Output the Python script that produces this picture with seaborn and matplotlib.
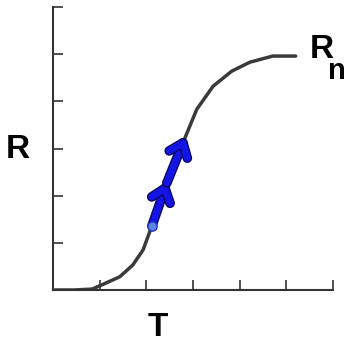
import numpy as np
import pandas as pd
import seaborn as sns
from matplotlib import pyplot as plt
import matplotlib.patheffects as pe

# curve (data units, ticks every 1)
t_vals = [0.04, 0.45, 0.84, 1.05, 1.43, 1.71, 1.93, 2.12, 2.40, 2.61, 2.83, 3.08, 3.43, 3.83, 4.22, 4.71, 5.20]
r_vals = [0.00, 0.00, 0.02, 0.11, 0.28, 0.53, 0.85, 1.36, 2.00, 2.60, 3.23, 3.83, 4.32, 4.64, 4.83, 4.96, 4.96]

# arrow path along the curve
arrow_t = [2.12, 2.44, 2.83]
arrow_r = [1.36, 2.27, 3.23]

tick_pos = [0, 1, 2, 3, 4, 5, 6]

sns.set_style("ticks")
plt.rcParams['font.family'] = ['Liberation Sans', 'DejaVu Sans']

df = pd.DataFrame({"T": t_vals, "R": r_vals})

fig = plt.figure(figsize=(3.47, 3.46), dpi=100)
ax = fig.add_axes([53/347, 56/346, 280/347, 283/346])

sns.lineplot(data=df, x="T", y="R", color="#3a3a3a", lw=2.5, ax=ax, sort=False)

# two blue arrows
for i in range(len(arrow_t) - 1):
    ax.annotate("", xy=(arrow_t[i + 1], arrow_r[i + 1]), xytext=(arrow_t[i], arrow_r[i]),
                arrowprops=dict(arrowstyle="->,head_length=0.9,head_width=0.7",
                                color="#1414e6", lw=5,
                                path_effects=[pe.Stroke(linewidth=7, foreground="#0a0a60"), pe.Normal()],
                                shrinkA=0, shrinkB=0),
                zorder=4)

sns.scatterplot(x=[arrow_t[0]], y=[arrow_r[0]], s=45, color="#5a86e8", edgecolor="#2030c0",
                linewidth=1, ax=ax, zorder=5)

ax.set_xlim(0, 6)
ax.set_ylim(0, 6)
ax.set_xticks(tick_pos)
ax.set_yticks(tick_pos)
ax.set_xticklabels([])
ax.set_yticklabels([])
ax.tick_params(direction="in", length=7, width=1.2, color="#333333")
for s in ["left", "bottom"]:
    ax.spines[s].set_color("#333333")
    ax.spines[s].set_linewidth(1.5)
sns.despine(ax=ax)
ax.set_xlabel("")
ax.set_ylabel("")

fig.text(18/347, 1 - 150/346, "R", fontsize=24, fontweight="bold", color="black", ha="center", va="center")
fig.text(158/347, 1 - 328/346, "T", fontsize=24, fontweight="bold", color="black", ha="center", va="center")
fig.text(310/347, 1 - 49/346, "R", fontsize=24, fontweight="bold", color="black", ha="left", va="center")
fig.text(328/347, 1 - 71/346, "n", fontsize=21, fontweight="bold", color="black", ha="left", va="center")

fig.savefig("out.png", dpi=100)
